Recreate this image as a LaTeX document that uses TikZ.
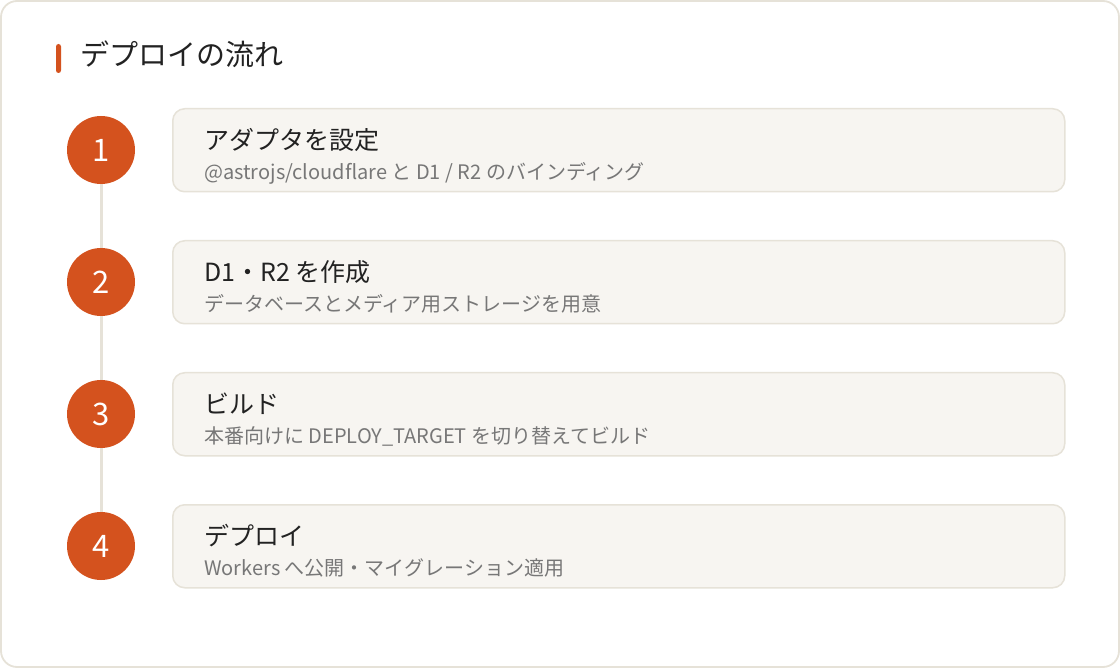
\documentclass[tikz,border=0pt]{standalone}
\usepackage{fontspec}
\setmainfont{Noto Sans CJK JP}
\definecolor{accent}{HTML}{D4521E}
\definecolor{edge}{HTML}{E6E2D8}
\definecolor{cardbg}{HTML}{F7F5F1}
\definecolor{ink}{HTML}{222222}
\definecolor{sub}{HTML}{777777}
\tikzset{
  card/.style={draw=edge, line width=1.5pt, fill=cardbg, rounded corners=12pt, minimum width=892pt, minimum height=83pt, anchor=north west, inner sep=0pt},
  num/.style={circle, fill=accent, minimum size=68pt, inner sep=0pt, text=white, font=\fontsize{31}{31}\selectfont},
  ttl/.style={anchor=base west, text=ink, font=\fontsize{25}{25}\selectfont, inner sep=0pt},
  subt/.style={anchor=base west, text=sub, font=\fontsize{20}{20}\selectfont, inner sep=0pt},
  spine/.style={draw=edge, line width=3pt}
}
\begin{document}
\begin{tikzpicture}[x=1pt,y=-1pt]
\useasboundingbox (0,0) rectangle (1120,668);
\draw[edge, line width=1.8pt, fill=white, rounded corners=16pt] (1,1) rectangle (1119,667);
\fill[accent, rounded corners=2.5pt] (56,44) rectangle (61,73);
\node[anchor=base west, inner sep=0pt, text=ink, font=\fontsize{29}{29}\selectfont] (title) at (80,66) {デプロイの流れ};
% cards
\node[card] (c1) at (172,108) {};
\node[card] (c2) at (172,240) {};
\node[card] (c3) at (172,372) {};
\node[card] (c4) at (172,504) {};
% spine
\coordinate (s1) at (101,150);
\coordinate (s4) at (101,546);
\draw[spine] (s1) -- (s4);
% circles
\node[num] (n1) at (101,150) {1};
\node[num] (n2) at (101,282) {2};
\node[num] (n3) at (101,414) {3};
\node[num] (n4) at (101,546) {4};
% texts
\node[ttl] (t1) at (204,149.5) {アダプタを設定};
\node[subt] (d1) at (204,179.5) {@astrojs/cloudflare と D1 / R2 のバインディング};
\node[ttl] (t2) at (204,281.5) {D1・R2 を作成};
\node[subt] (d2) at (204,311.5) {データベースとメディア用ストレージを用意};
\node[ttl] (t3) at (204,413.5) {ビルド};
\node[subt] (d3) at (204,443.5) {本番向けに DEPLOY\_TARGET を切り替えてビルド};
\node[ttl] (t4) at (204,545.5) {デプロイ};
\node[subt] (d4) at (204,575.5) {Workers へ公開・マイグレーション適用};
\end{tikzpicture}
\end{document}
